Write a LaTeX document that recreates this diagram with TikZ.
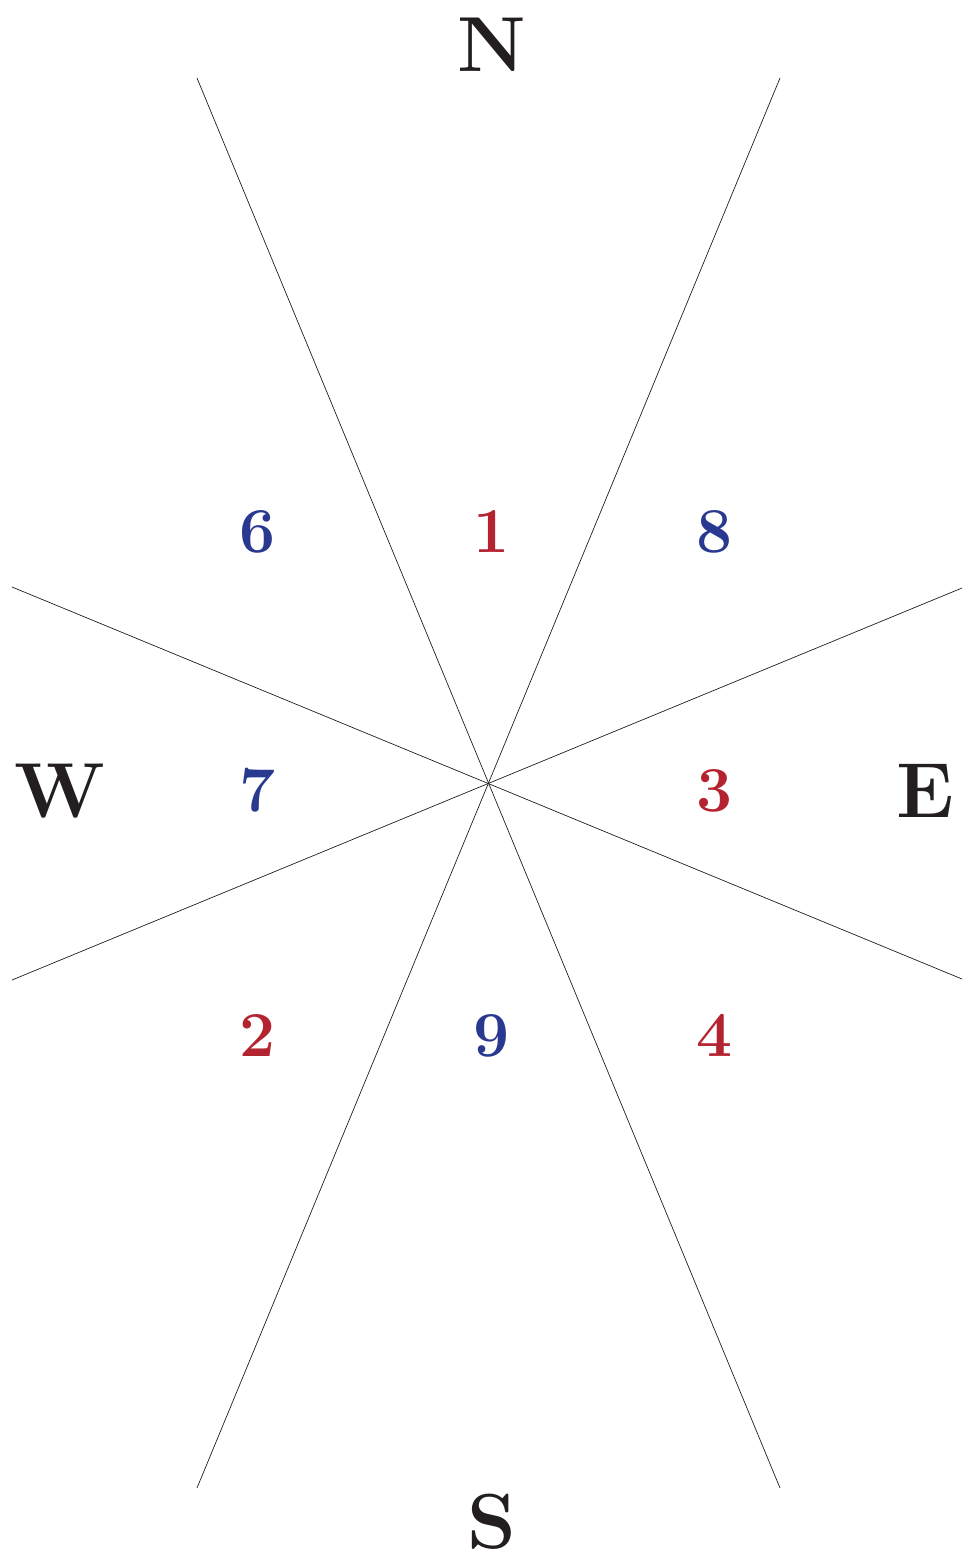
\documentclass[tikz,border=0pt]{standalone}
\usepackage{tikz}

\definecolor{rayblack}{RGB}{30,30,30}
\definecolor{windblack}{RGB}{35,31,32}
\definecolor{yangred}{RGB}{180,35,48}
\definecolor{yinblue}{RGB}{42,57,144}

\begin{document}
\begin{tikzpicture}[x=1pt,y=-1pt,
    ray/.style={line width=0.7pt,draw=rayblack},
    wind/.style={anchor=base,inner sep=0pt,text=windblack,
      font=\fontsize{78}{78}\selectfont\bfseries},
    yang/.style={anchor=base,inner sep=0pt,text=yangred,
      font=\fontsize{64}{64}\selectfont\bfseries},
    yin/.style={anchor=base,inner sep=0pt,text=yinblue,
      font=\fontsize{64}{64}\selectfont\bfseries}]

  \useasboundingbox (0,0) rectangle (962,1562);

  % ends of the four rays
  \foreach \name/\x/\y in {%
      nw/197/78, ne/780/78, se/780/1488, sw/197/1488,
      wn/12/587, en/962/588, es/962/979, ws/12/980} {
    \coordinate (\name) at (\x,\y);
  }

  \draw[ray] (nw) -- (se);
  \draw[ray] (ne) -- (sw);
  \draw[ray] (wn) -- (es);
  \draw[ray] (en) -- (ws);

  % the eight outer numbers
  \foreach \name/\x/\y/\style in {%
      6/258/552/yin, 1/492/552/yang, 8/715/552/yin,
      7/258/811/yin, 3/715/811/yang,
      2/258/1056/yang, 9/492/1056/yin, 4/715/1056/yang} {
    \node[\style] (n\name) at (\x,\y) {\name};
  }

  \node[wind] (north) at (492,72) {N};
  \node[wind] (south) at (492,1548) {S};
  \node[wind] (west) at (60,817) {W};
  \node[wind] (east) at (925,817) {E};

\end{tikzpicture}
\end{document}
